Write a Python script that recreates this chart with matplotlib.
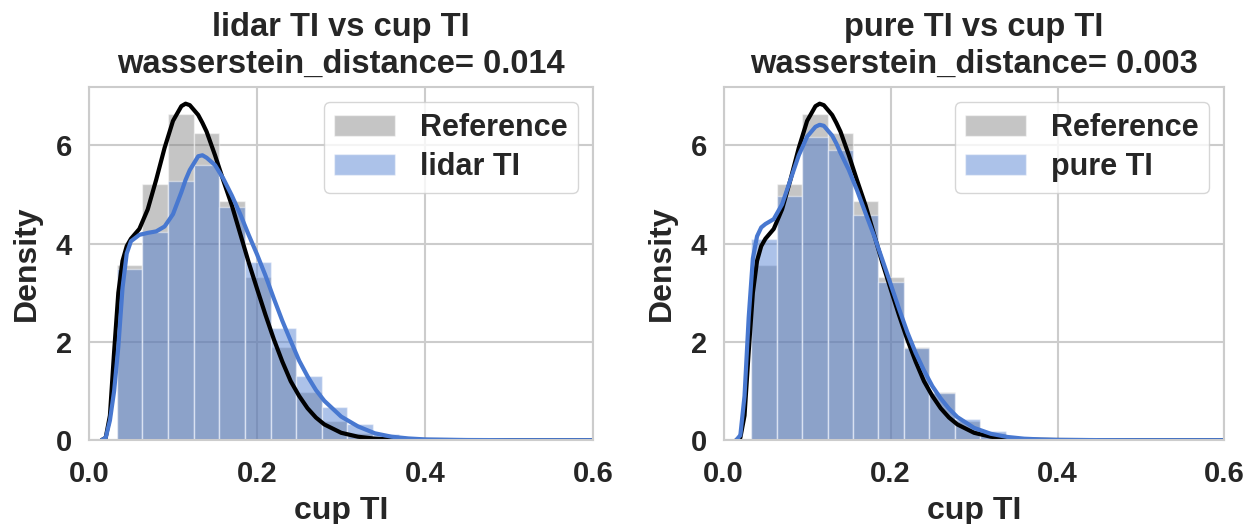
import numpy as np
import matplotlib
matplotlib.use('Agg')
import matplotlib.pyplot as plt
import seaborn as sns

# histogram bins (cup TI)
bin_start = 0.033
bin_width = 0.0305
ref_hist = [3.57, 5.22, 6.64, 6.26, 4.86, 3.32, 1.90, 0.98, 0.40, 0.15, 0.05, 0.02, 0.01, 0.005, 0, 0, 0, 0]
lidar_hist = [3.48, 4.24, 5.27, 5.60, 4.75, 3.63, 2.29, 1.30, 0.67, 0.33, 0.12, 0.05, 0.02, 0.01, 0, 0, 0, 0]
pure_hist = [4.09, 4.98, 6.17, 5.90, 4.58, 3.22, 1.88, 0.96, 0.44, 0.19, 0.07, 0.03, 0.01, 0.005, 0, 0, 0, 0]

# kde curves
kde_x = [0.015, 0.02, 0.025, 0.03, 0.035, 0.04, 0.045, 0.05, 0.06, 0.07, 0.08, 0.09, 0.10,
         0.11, 0.115, 0.12, 0.13, 0.135, 0.14, 0.15, 0.16, 0.17, 0.18, 0.19, 0.20, 0.21, 0.22,
         0.23, 0.24, 0.25, 0.26, 0.27, 0.28, 0.30, 0.32, 0.34, 0.36, 0.38, 0.40, 0.45, 0.50, 0.60]
ref_kde = [0.0, 0.05, 0.5, 1.8, 3.0, 3.65, 3.95, 4.1, 4.3, 4.7, 5.3, 5.95, 6.5,
           6.8, 6.85, 6.82, 6.62, 6.46, 6.28, 5.8, 5.28, 4.78, 4.2, 3.62, 3.08, 2.55, 2.05,
           1.6, 1.2, 0.9, 0.65, 0.46, 0.32, 0.15, 0.07, 0.03, 0.012, 0.006, 0.003, 0.001, 0.0, 0.0]
lidar_kde = [0.0, 0.05, 0.4, 1.0, 1.9, 3.1, 3.8, 4.05, 4.18, 4.22, 4.25, 4.35, 4.6,
             5.05, 5.3, 5.5, 5.78, 5.8, 5.75, 5.6, 5.32, 4.98, 4.6, 4.18, 3.78, 3.35, 2.88,
             2.43, 2.02, 1.62, 1.3, 1.02, 0.8, 0.48, 0.28, 0.14, 0.07, 0.035, 0.015, 0.003, 0.0, 0.0]
pure_kde = [0.0, 0.1, 0.9, 2.5, 3.7, 4.15, 4.33, 4.4, 4.5, 4.8, 5.3, 5.8, 6.18,
            6.38, 6.42, 6.4, 6.2, 6.04, 5.85, 5.5, 5.08, 4.62, 4.17, 3.68, 3.18, 2.68, 2.2,
            1.78, 1.42, 1.1, 0.85, 0.64, 0.47, 0.25, 0.13, 0.065, 0.03, 0.015, 0.007, 0.001, 0.0, 0.0]

panels = [('lidar TI', lidar_hist, lidar_kde, 0.014),
          ('pure TI', pure_hist, pure_kde, 0.003)]

sns.set_theme(style='whitegrid')
plt.rcParams['font.family'] = ['Liberation Sans', 'DejaVu Sans']
plt.rcParams['font.weight'] = 'bold'
plt.rcParams['axes.labelweight'] = 'bold'
plt.rcParams['axes.titleweight'] = 'bold'

blue = '#4878d0'
edges = bin_start + bin_width * np.arange(len(ref_hist) + 1)

fig = plt.figure(figsize=(12.52, 5.24), dpi=100)
ax_pos = [[0.071, 0.160, 0.403, 0.674], [0.578, 0.160, 0.400, 0.674]]

for k in range(2):
    name, hist, kde, wd = panels[k]
    ax = fig.add_axes(ax_pos[k])
    ax.bar(edges[:-1], ref_hist, width=bin_width, align='edge', color='gray', alpha=0.45,
           edgecolor='white', linewidth=1, label='Reference')
    ax.bar(edges[:-1], hist, width=bin_width, align='edge', color=blue, alpha=0.45,
           edgecolor='white', linewidth=1, label=name)
    ax.plot(kde_x, ref_kde, color='black', lw=3)
    ax.plot(kde_x, kde, color=blue, lw=3)
    ax.set_xlim(0, 0.6)
    ax.set_ylim(0, 7.19)
    ax.set_xticks([0.0, 0.2, 0.4, 0.6])
    ax.set_yticks([0, 2, 4, 6])
    ax.tick_params(axis='x', labelsize=21, pad=8)
    ax.tick_params(axis='y', labelsize=21, pad=6)
    ax.set_xlabel('cup TI', fontsize=23, labelpad=6)
    ax.set_ylabel('Density', fontsize=23, labelpad=10)
    ax.set_title('{0} vs cup TI\nwasserstein_distance= {1}'.format(name, wd), fontsize=23.5,
                 pad=10, linespacing=1.27)
    for s in ax.spines.values():
        s.set_linewidth(1.5)
    ax.grid(True, linewidth=1.5)
    ax.legend(loc='upper right', fontsize=22, labelspacing=0.3, borderpad=0.35)

plt.savefig('out.png', dpi=100)
